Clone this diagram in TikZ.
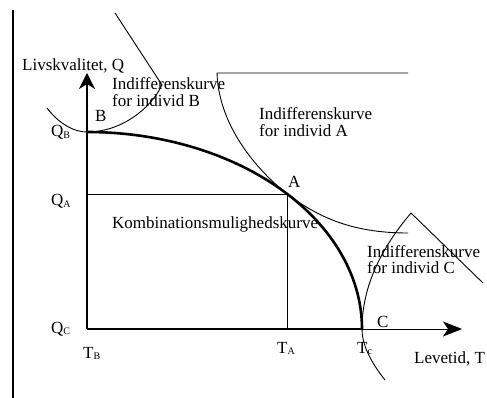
\documentclass[tikz,border=0pt]{standalone}
\usepackage{fontspec}
\setmainfont{Liberation Serif}
\usetikzlibrary{arrows.meta}
\newcommand{\subl}[1]{\raisebox{-1.5pt}{\fontsize{10}{10}\selectfont #1}}
\begin{document}
\begin{tikzpicture}[x=1pt,y=-1pt,
  thinline/.style={line width=0.9pt},
  thickline/.style={line width=2.6pt},
  axisline/.style={line width=1.5pt},
  lbl/.style={anchor=base west, inner sep=0pt, font=\fontsize{17}{17}\selectfont},
  bigtip/.style={-{Stealth[length=16pt,width=16pt,inset=5pt]}},
]
\fill[white] (0,0) rectangle (487,398);
\useasboundingbox (0,0) rectangle (487,398);

% key points
\coordinate (O) at (87,329);
\coordinate (QBp) at (87,132);
\coordinate (Ap) at (287,194);
\coordinate (Tcp) at (362,329);
\coordinate (QAp) at (87,194);
\coordinate (TAp) at (287,329);
\coordinate (ytip) at (87,73);
\coordinate (xtip) at (462,329);
\coordinate (bordTop) at (13,10);
\coordinate (bordBot) at (13,398);

% left border line
\draw[axisline] (bordTop) -- (bordBot);

% axes
\draw[axisline, bigtip] (O) -- (ytip);
\draw[thinline, -{Stealth[length=19pt,width=15pt,inset=5pt]}] (Tcp) -- (xtip);
\draw[thickline] (O) -- (Tcp);

% guide lines to A
\draw[thinline] (QAp) -- (Ap) -- (TAp);

% combination possibility curve
\draw[thickline] plot[domain=90:0,samples=90] ({87+275*cos(\x)},{329-197*sin(\x)});

% indifference curve A
\draw[thinline] (408,73) -- (217,73) .. controls (219,130) and (262,174) .. (Ap)
  .. controls (317,216) and (350,233) .. (408,233);

% indifference curve B
\draw[thinline] (47,108) .. controls (60,125) and (75,132) .. (QBp)
  .. controls (120,132) and (150,110) .. (162,85) -- (115,13);

% indifference curve C
\draw[thinline] (483,283) -- (411,213) .. controls (378,252) and (362,290) .. (Tcp)
  .. controls (362,343) and (369,360) .. (385,380);

% labels
\node[lbl] (ylab) at (22,71) {Livskvalitet, Q};
\node[lbl] (indB1) at (112,90) {Indifferenskurve};
\node[lbl] (indB2) at (112,107) {for individ B};
\node[lbl] (Blab) at (95,122) {B};
\node[lbl] (QB) at (51,137) {Q\subl{B}};
\node[lbl] (QA) at (51,206) {Q\subl{A}};
\node[lbl] (QC) at (51,333) {Q\subl{C}};
\node[lbl] (TB) at (83,358) {T\subl{B}};
\node[lbl] (TA) at (277,353) {T\subl{A}};
\node[lbl] (Tc) at (357,353) {T\subl{c}};
\node[lbl] (Clab) at (377,327) {C};
\node[lbl] (xlab) at (414,363) {Levetid, T};
\node[lbl] (indA1) at (259,120) {Indifferenskurve};
\node[lbl] (indA2) at (259,137) {for individ A};
\node[lbl] (Alab) at (288,188) {A};
\node[lbl] (komb) at (112,228) {Kombinationsmulighedskurve};
\node[lbl] (indC1) at (367,257) {Indifferenskurve};
\node[lbl] (indC2) at (367,273) {for individ C};
\end{tikzpicture}
\end{document}
